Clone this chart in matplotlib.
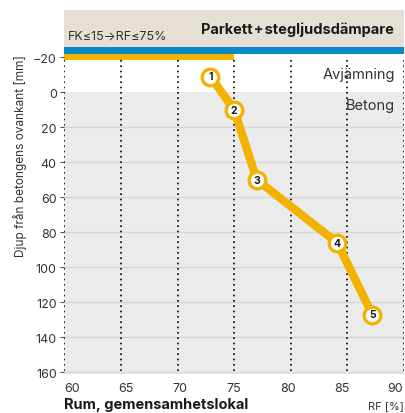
import numpy as np
import matplotlib
matplotlib.use("Agg")
import matplotlib.pyplot as plt
import matplotlib.transforms as mtransforms

plt.rcParams['font.family'] = ['Inter', 'DejaVu Sans']

# measurement points: relative humidity [%] vs depth below concrete top [mm]
point_ids = ["1", "2", "3", "4", "5"]
rf_values = [72.9, 75.0, 77.0, 84.1, 87.2]
depth_values = [-9, 10, 50, 86, 127]

rf_ticks = [60, 65, 70, 75, 80, 85, 90]
depth_ticks = [-20, 0, 20, 40, 60, 80, 100, 120, 140, 160]
rf_limit = 75  # FK<=15 -> RF<=75%

title_floor = "Parkett\u200a+\u200astegljudsdämpare"
limit_text = "FK≤15→RF≤75%"
layer_top = "Avjämning"
layer_base = "Betong"
room_text = "Rum, gemensamhetslokal"
ylabel = "Djup från betongens ovankant [mm]"
xlabel = "RF [%]"

W, H = 406, 414
fig = plt.figure(figsize=(W / 100, H / 100), dpi=100)
ax = fig.add_axes([64.3 / W, 1 - 375 / H, (404 - 64.3) / W, (375 - 11) / H])
ax.set_xlim(60, 90)
ax.set_ylim(161, -47)

yellow = '#F2B200'
txt = '#333333'
# background zones
ax.axhspan(-47, -25.9, color='#E6DFD4', lw=0, zorder=0)
ax.axhspan(-25.9, -21.7, color='#0A8AC6', lw=0, zorder=1)
ax.fill_between([60, rf_limit], -21.7, -18.7, color=yellow, lw=0, zorder=1)
ax.axhspan(0, 161, color='#EBEBEB', lw=0, zorder=0)
ax.hlines([d for d in depth_ticks if d > 0], 60, 90, colors='#D5D5D5', lw=1, zorder=1)
ax.vlines(rf_ticks, -18.7, 161, colors='black', linestyles=(0, (1, 2.2)), lw=1.2, zorder=2)

# profile
ax.plot(rf_values, depth_values, color=yellow, lw=6, solid_capstyle='round', zorder=3)
ax.plot(rf_values, depth_values, 'o', ms=12, mfc='white', mec=yellow, mew=2.4, zorder=4)
for pid, x, y in zip(point_ids, rf_values, depth_values):
    ax.text(x, y, pid, ha='center', va='center', fontsize=7.5, fontweight='bold',
            color='#1a1a1a', zorder=5)

for s in ax.spines.values():
    s.set_visible(False)

ax.set_xticks(rf_ticks)
ax.set_xticklabels([str(t) for t in rf_ticks], fontsize=9, color=txt)
ax.tick_params(axis='x', length=0, pad=6)
for i, lbl in enumerate(ax.get_xticklabels()):
    dx = (8.2 - 2.78 * i) / 100
    lbl.set_transform(lbl.get_transform() + mtransforms.ScaledTranslation(dx, 0, fig.dpi_scale_trans))

ax.set_yticks(depth_ticks)
ax.set_yticklabels([f"{t}".replace('-', '\u2212') for t in depth_ticks], fontsize=9, color=txt)
ax.tick_params(axis='y', length=3, width=0.8, color='#555555', pad=2.5)

# texts
fig.text(394 / W, 1 - 30 / H, title_floor, ha='right', va='center', fontsize=10.5, fontweight='bold', color='#1a1a1a')
fig.text(68 / W, 1 - 37 / H, limit_text, ha='left', va='center', fontsize=9, color=txt)
fig.text(395 / W, 1 - 75 / H, layer_top, ha='right', va='center', fontsize=10.5, color=txt)
fig.text(395 / W, 1 - 106 / H, layer_base, ha='right', va='center', fontsize=10.5, color=txt)
fig.text(20 / W, 1 - 156 / H, ylabel, ha='center', va='center', rotation=90, fontsize=8.5, color=txt)
fig.text(64 / W, 1 - 405 / H, room_text, ha='left', va='center', fontsize=10.5, fontweight='bold', color='#1a1a1a')
fig.text(404 / W, 1 - 406 / H, xlabel, ha='right', va='center', fontsize=8, color=txt)

fig.savefig('out.png', dpi=100)
